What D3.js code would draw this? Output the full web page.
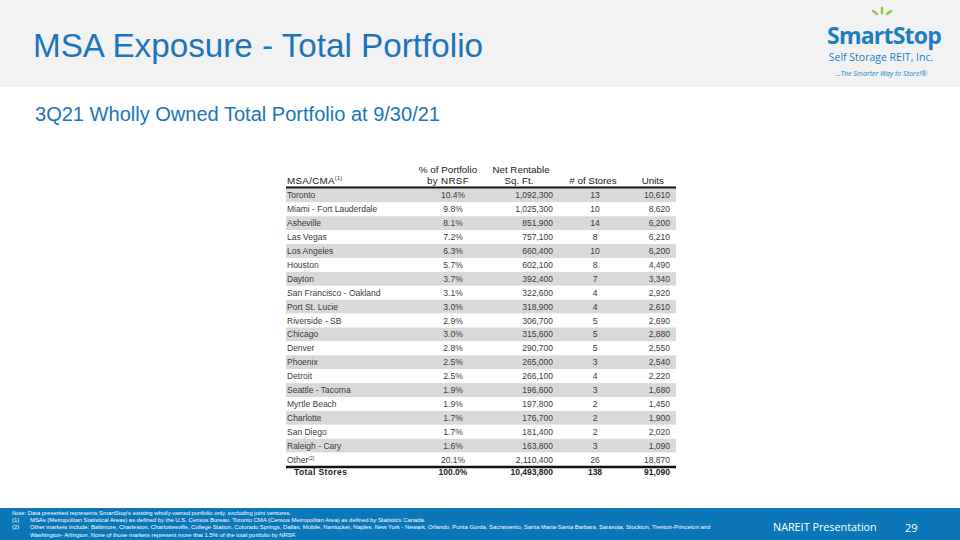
<!DOCTYPE html>
<html><head><meta charset="utf-8">
<script src="https://cdn.jsdelivr.net/npm/d3@7"></script>
<style>body{margin:0;background:#fff}svg{display:block;font-family:"Liberation Sans",Arial,sans-serif}</style>
</head><body>
<script>
const markets = ["Toronto","Miami - Fort Lauderdale","Asheville","Las Vegas","Los Angeles","Houston","Dayton","San Francisco - Oakland","Port St. Lucie","Riverside - SB","Chicago","Denver","Phoenix","Detroit","Seattle - Tacoma","Myrtle Beach","Charlotte","San Diego","Raleigh - Cary","Other"];
const pctNRSF = [10.4,9.8,8.1,7.2,6.3,5.7,3.7,3.1,3.0,2.9,3.0,2.8,2.5,2.5,1.9,1.9,1.7,1.7,1.6,20.1];
const nrsf = [1092300,1025300,851900,757100,660400,602100,392400,322600,318900,306700,315600,290700,265000,266100,196600,197800,176700,181400,163800,2110400];
const stores = [13,10,14,8,10,8,7,4,4,5,5,5,3,4,3,2,2,2,3,26];
const units = [10610,8620,6200,6210,6200,4490,3340,2920,2610,2690,2880,2550,2540,2220,1680,1450,1900,2020,1090,18870];
const totals = {pct:100.0, nrsf:10493800, stores:138, units:91090};
const notes = [
 ["Note:","Data presented represents SmartStop's existing wholly-owned portfolio only, excluding joint ventures."],
 ["(1)","MSAs (Metropolitan Statistical Areas) as defined by the U.S. Census Bureau. Toronto CMA (Census Metropolitan Area) as defined by Statistics Canada."],
 ["(2)","Other markets include: Baltimore, Charleston, Charlottesville, College Station, Colorado Springs, Dallas, Mobile, Nantucket, Naples, New York - Newark, Orlando, Punta Gorda, Sacramento, Santa Maria-Santa Barbara, Sarasota, Stockton, Trenton-Princeton and"],
 ["","Washington- Arlington. None of those markets represent more that 1.5% of the total portfolio by NRSF."]
];

const W=960,H=540;
const svg=d3.select("body").append("svg").attr("width",W).attr("height",H);
const blue="#1b75b9";
// header band
svg.append("rect").attr("x",0).attr("y",0).attr("width",W).attr("height",87).attr("fill","#f2f2f2");
svg.append("text").attr("x",33).attr("y",57).attr("font-size",34).attr("fill",blue)
  .attr("textLength",450).attr("lengthAdjust","spacingAndGlyphs").text("MSA Exposure - Total Portfolio");
svg.append("text").attr("x",35).attr("y",121).attr("font-size",20).attr("fill",blue)
  .attr("textLength",405).attr("lengthAdjust","spacingAndGlyphs").text("3Q21 Wholly Owned Total Portfolio at 9/30/21");

// logo
const lg=svg.append("g");
const spark=[[-9,-4,-5,-1],[0,-7,0,-2],[9,-4,5,-1]];
lg.selectAll("line").data(spark).join("line")
 .attr("x1",d=>882+d[0]).attr("y1",d=>15+d[1]).attr("x2",d=>882+d[2]).attr("y2",d=>15+d[3])
 .attr("stroke","#8dc63f").attr("stroke-width",2.4).attr("stroke-linecap","round");
lg.append("text").attr("x",884).attr("y",44).attr("text-anchor","middle").attr("font-size",23).attr("font-weight","bold").attr("fill","#1a7fc1").attr("letter-spacing",-0.8).attr("font-family","'Open Sans',sans-serif").text("SmartStop");
lg.append("text").attr("x",881).attr("y",61).attr("text-anchor","middle").attr("font-size",10.5).attr("fill","#1a7fc1").attr("font-family","'Open Sans',sans-serif").text("Self Storage REIT, Inc.");
lg.append("text").attr("x",881).attr("y",76).attr("text-anchor","middle").attr("font-size",7).attr("font-style","italic").attr("fill","#1a7fc1").attr("font-family","'Open Sans',sans-serif").text("...The Smarter Way to Store!\u00AE");

// table
const tx0=286, tx1=676;
const y=d3.scaleBand().domain(d3.range(markets.length)).range([188.5,466.5]);
const col={name:287,pct:453,nrsf:553,stores:595,units:670};
const fmt=d3.format(",");
const tg=svg.append("g").attr("font-size",8.5).attr("fill","#3a3a3a");
const rows=tg.selectAll("g.row").data(markets).join("g").attr("class","row").attr("transform",(d,i)=>`translate(0,${y(i)})`);
rows.append("rect").attr("x",tx0).attr("width",tx1-tx0).attr("height",y.bandwidth()).attr("fill",(d,i)=>i%2===0?"#d9d9d9":"#fff");
const by=y.bandwidth()/2+3;
rows.append("text").attr("x",col.name).attr("y",by).each(function(d){
  const t=d3.select(this);
  if(d==="Other"){t.append("tspan").text("Other");t.append("tspan").attr("font-size",5).attr("dy",-3).text("(2)");}
  else t.text(d);
});
rows.append("text").attr("x",col.pct).attr("y",by).attr("text-anchor","middle").text((d,i)=>pctNRSF[i].toFixed(1)+"%");
rows.append("text").attr("x",col.nrsf).attr("y",by).attr("text-anchor","end").text((d,i)=>fmt(nrsf[i]));
rows.append("text").attr("x",col.stores).attr("y",by).attr("text-anchor","middle").text((d,i)=>stores[i]);
rows.append("text").attr("x",col.units).attr("y",by).attr("text-anchor","end").text((d,i)=>fmt(units[i]));

// header
const hg=svg.append("g").attr("font-size",9.8).attr("fill","#222");
const h1=hg.append("text").attr("x",287).attr("y",183.5).attr("letter-spacing",0.3);
h1.append("tspan").text("MSA/CMA");h1.append("tspan").attr("font-size",5.5).attr("dy",-3.5).text("(1)");
hg.append("text").attr("x",448).attr("y",172.5).attr("text-anchor","middle").text("% of Portfolio");
hg.append("text").attr("x",448).attr("y",183.5).attr("text-anchor","middle").attr("letter-spacing",0.3).text("by NRSF");
hg.append("text").attr("x",521).attr("y",172.5).attr("text-anchor","middle").text("Net Rentable");
hg.append("text").attr("x",519).attr("y",183.5).attr("text-anchor","middle").text("Sq. Ft.");
hg.append("text").attr("x",593).attr("y",183.5).attr("text-anchor","middle").text("# of Stores");
hg.append("text").attr("x",664).attr("y",183.5).attr("text-anchor","end").text("Units");
svg.append("line").attr("x1",tx0).attr("x2",tx1).attr("y1",187.5).attr("y2",187.5).attr("stroke","#111").attr("stroke-width",2);
svg.append("line").attr("x1",tx0).attr("x2",tx1).attr("y1",467).attr("y2",467).attr("stroke","#111").attr("stroke-width",2.4);

// total row
const trY=474.5;
const tt=svg.append("g").attr("font-size",8.5).attr("fill","#222").attr("font-weight","bold");
tt.append("text").attr("x",294).attr("y",trY).attr("letter-spacing",0.4).text("Total Stores");
tt.append("text").attr("x",col.pct).attr("y",trY).attr("text-anchor","middle").text(totals.pct.toFixed(1)+"%");
tt.append("text").attr("x",col.nrsf).attr("y",trY).attr("text-anchor","end").text(fmt(totals.nrsf));
tt.append("text").attr("x",col.stores).attr("y",trY).attr("text-anchor","middle").text(totals.stores);
tt.append("text").attr("x",col.units).attr("y",trY).attr("text-anchor","end").text(fmt(totals.units));

// footer
svg.append("rect").attr("x",0).attr("y",508).attr("width",W).attr("height",32).attr("fill","#0b76b8");
const fg=svg.append("g").attr("font-size",5.9).attr("fill","#fff");
notes.forEach((n,i)=>{
  const yy=514.5+i*7.4;
  if(i===0){fg.append("text").attr("x",12).attr("y",yy).text(n[0]+" "+n[1]);}
  else{
    if(n[0])fg.append("text").attr("x",12).attr("y",yy).text(n[0]);
    fg.append("text").attr("x",30).attr("y",yy).text(n[1]);
  }
});
svg.append("text").attr("x",773).attr("y",531).attr("font-size",10.8).attr("fill","#fff").attr("font-family","'Open Sans',sans-serif").text("NAREIT Presentation");
svg.append("text").attr("x",905).attr("y",532).attr("font-size",11).attr("fill","#fff").attr("font-family","'Open Sans',sans-serif").text("29");
</script>
</body></html>
